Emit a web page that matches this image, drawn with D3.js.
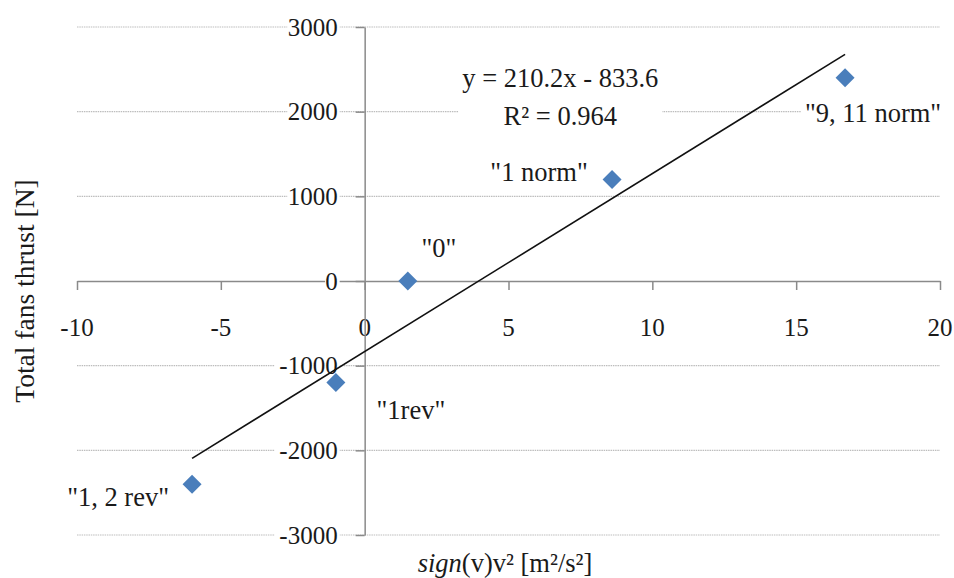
<!DOCTYPE html>
<html><head><meta charset="utf-8">
<script src="https://cdn.jsdelivr.net/npm/d3@7"></script>
<style>body{margin:0;background:#fff}svg{display:block}text{font-family:"Liberation Serif","Times New Roman",serif;fill:#1a1a1a}</style>
</head><body><svg id="c" width="954" height="578"></svg>
<script>
const xVals = [-6, -1.0, 1.5, 8.6, 16.7];
const yVals = [-2400, -1200, 0, 1200, 2400];
const pointLabels = ['"1, 2 rev"', '"1rev"', '"0"', '"1 norm"', '"9, 11 norm"'];
const labelOffsets = [[-74, 13], [75, 27], [31, -33], [-73, -8], [28, 35]];
const xTicks = [-10, -5, 0, 5, 10, 15, 20];
const yTicks = [-3000, -2000, -1000, 0, 1000, 2000, 3000];
const slope = 210.2, intercept = -833.6, r2 = 0.964;

const svg = d3.select("#c");
const x = d3.scaleLinear().domain([-10, 20]).range([77, 940]);
const y = d3.scaleLinear().domain([-3000, 3000]).range([535, 27]);
const fs = 25, fl = 26.5;

// gridlines
svg.append("g").selectAll("line").data(yTicks.filter(d => d !== 0)).join("line")
  .attr("x1", x(-10)).attr("x2", x(20)).attr("y1", d => y(d)).attr("y2", d => y(d))
  .attr("stroke", "#bdbdbd").attr("stroke-width", 1.2).attr("stroke-dasharray", "1.5,0.8");

// x axis at y=0
const gx = svg.append("g").attr("transform", `translate(0,${y(0)})`)
  .call(d3.axisBottom(x).tickValues(xTicks).tickSize(9).tickSizeOuter(0).tickFormat(d => d === 0 ? "" : d));
gx.select(".domain").attr("stroke", "#8a8a8a").attr("stroke-width", 1.5);
gx.selectAll(".tick line").attr("stroke", "#8a8a8a").attr("stroke-width", 1.5);
gx.selectAll("text").remove();
svg.append("g").selectAll("text").data(xTicks).join("text")
  .attr("x", d => x(d)).attr("y", y(0) + 55).attr("text-anchor", "middle")
  .attr("font-size", fs).text(d => d);

// y axis at x=0
const gy = svg.append("g").attr("transform", `translate(${x(0)},0)`)
  .call(d3.axisLeft(y).tickValues(yTicks).tickSize(9).tickSizeOuter(0));
gy.select(".domain").attr("stroke", "#8a8a8a").attr("stroke-width", 1.5);
gy.selectAll(".tick line").attr("stroke", "#8a8a8a").attr("stroke-width", 1.5);
gy.selectAll("text").remove();
const yl = svg.append("g").selectAll("g").data(yTicks).join("g")
  .attr("transform", d => `translate(${x(0) - 27},${y(d)})`);
yl.append("rect").attr("x", d => -(String(d).length * 12.6)).attr("y", -12).attr("width", d => String(d).length * 12.6 + 2).attr("height", 24).attr("fill", "#fff");
yl.append("text").attr("text-anchor", "end").attr("dy", "0.35em").attr("font-size", fs).text(d => d);

// trendline
const xmin = d3.min(xVals), xmax = d3.max(xVals);
svg.append("line")
  .attr("x1", x(xmin)).attr("y1", y(slope * xmin + intercept))
  .attr("x2", x(xmax)).attr("y2", y(slope * xmax + intercept))
  .attr("stroke", "#111").attr("stroke-width", 1.6);

// equation labels with white background
const eq = svg.append("g").attr("transform", `translate(${x(6.8)},0)`);
eq.append("rect").attr("x", -102).attr("y", 64).attr("width", 204).attr("height", 68).attr("fill", "#fff");
eq.append("text").attr("y", y(2400)).attr("dy", "0.35em").attr("text-anchor", "middle").attr("font-size", fl)
  .text(`y = ${slope}x - ${Math.abs(intercept)}`);
eq.append("text").attr("y", y(1950)).attr("dy", "0.35em").attr("text-anchor", "middle").attr("font-size", fl)
  .text(`R² = ${r2}`);

// points
const data = xVals.map((v, i) => ({x: v, y: yVals[i], label: pointLabels[i], off: labelOffsets[i]}));
svg.append("g").selectAll("path").data(data).join("path")
  .attr("transform", d => `translate(${x(d.x)},${y(d.y)})`)
  .attr("d", d3.symbol(d3.symbolDiamond2, 230))
  .attr("fill", "#4a7ebb");

// point labels
const pl = svg.append("g").selectAll("g").data(data).join("g")
  .attr("transform", d => `translate(${x(d.x) + d.off[0]},${y(d.y) + d.off[1]})`);
pl.append("text").attr("text-anchor", "middle").attr("dy", "0.35em").attr("font-size", fl).text(d => d.label)
  .each(function() {
    const b = this.getBBox();
    d3.select(this.parentNode).insert("rect", "text").attr("x", b.x - 4).attr("y", b.y).attr("width", b.width + 8).attr("height", b.height).attr("fill", "#fff");
  });

// axis titles
svg.append("text").attr("transform", `translate(34,291) rotate(-90)`).attr("text-anchor", "middle").attr("font-size", 27.5)
  .text("Total fans thrust [N]");
const xt = svg.append("text").attr("x", 505).attr("y", 572).attr("text-anchor", "middle").attr("font-size", 26.5);
xt.append("tspan").attr("font-style", "italic").text("sign");
xt.append("tspan").text("(v)v² [m²/s²]");
</script></body></html>
